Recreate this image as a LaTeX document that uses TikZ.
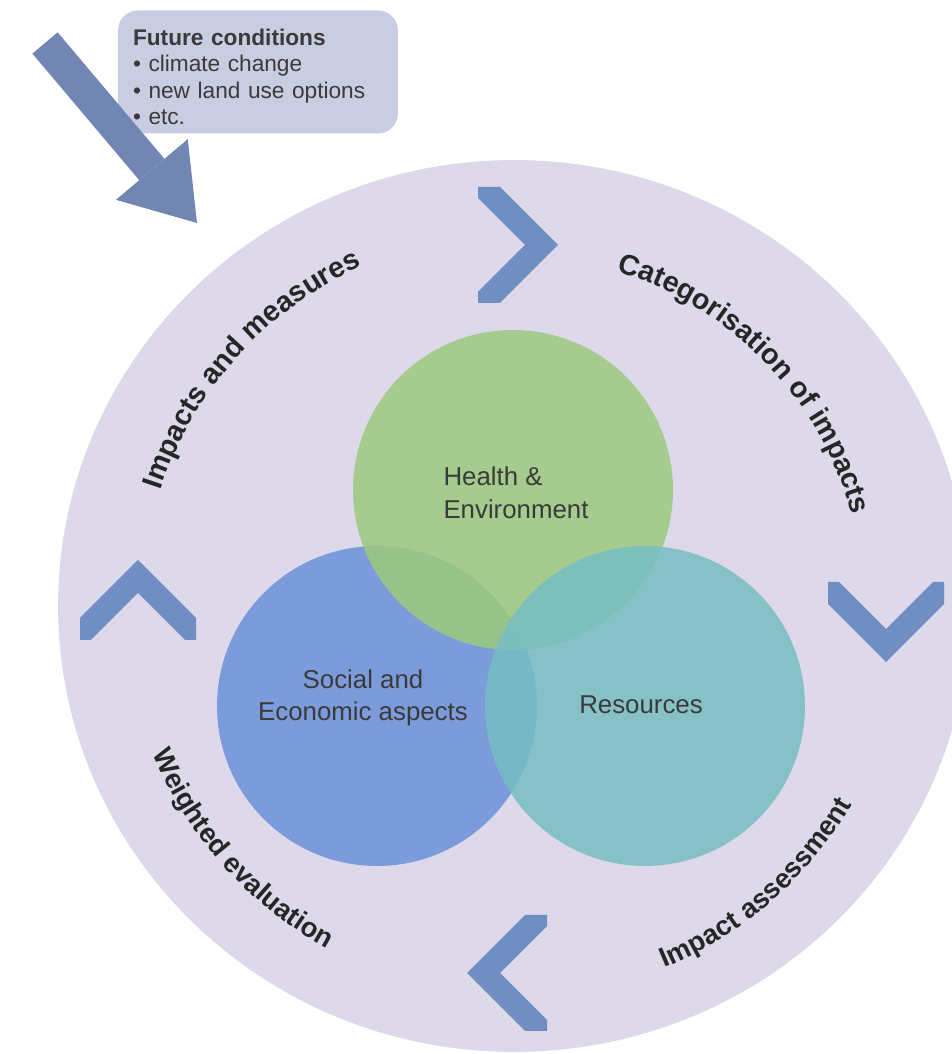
\documentclass[tikz,border=0pt]{standalone}
\usepackage{fontspec}
\setmainfont{Liberation Sans}
\usetikzlibrary{arrows.meta, positioning, shapes.geometric, decorations.text}
\definecolor{ringbg}{HTML}{DDD8EA}
\definecolor{chevblue}{HTML}{708EC1}
\definecolor{arrowblue}{HTML}{7286B4}
\definecolor{condbg}{HTML}{C8CDE2}
\definecolor{vblue}{HTML}{7B9BDB}
\definecolor{vgreen}{HTML}{9CCB7E}
\definecolor{vteal}{HTML}{77BEC3}
\definecolor{darktext}{HTML}{3A3A3A}
\definecolor{ringtext}{HTML}{262626}
\newcommand{\ringfont}{\fontsize{16.4}{19}\selectfont\bfseries}
\newcommand{\lowringfont}{\fontsize{15.6}{18}\selectfont\bfseries}

\begin{document}
\begin{tikzpicture}[
  x=0.02cm, y=0.02cm,
  condbox/.style={fill=condbg, rounded corners=0.4cm, text width=5cm,
                  inner xsep=0.3cm, inner ysep=0.1cm, minimum height=2.46cm,
                  align=left, font=\fontsize{12.9}{15.1}\selectfont, text=darktext},
  venn/.style={circle, inner sep=0pt, minimum size=6.4cm, fill opacity=0.85},
  venntext/.style={font=\fontsize{14.7}{18.5}\selectfont, text=darktext},
  bigarrow/.style={draw=arrowblue, line width=0.66cm,
                   -{Triangle[length=1.4cm, width=1.88cm, line width=0pt]}},
  chev/.pic={\fill[chevblue] (0,0) -- (-58,58) -- (-80,58) -- (-80,47) -- (-33,0)
             -- (-80,-47) -- (-80,-58) -- (-58,-58) -- cycle;}
]
  \useasboundingbox (0,0) rectangle (952,1054);
  \clip (0,0) rectangle (952,1054);
  \fill[white] (0,0) rectangle (952,1054);

  \node[ellipse, fill=ringbg, inner sep=0pt, minimum width=18.24cm,
        minimum height=17.84cm] (ring) at (514,448) {};

  \node[condbox] (future) at (258,982)
    {\rule{0pt}{15pt}\textbf{Future conditions}\\\textbullet\ climate change\\
     \textbullet\ new land use options\\\textbullet\ etc.};

  \coordinate (trendtail) at (45,1011);
  \coordinate (trendhead) at (197,831);
  \draw[bigarrow] (trendtail) -- (trendhead);

  \node[venn, fill=vblue, fill opacity=1] (social) at (377,348) {};
  \node[venn, fill=vgreen] (health) at (513,564) {};
  \node[venn, fill=vteal] (resources) at (645,348) {};

  \node[venntext, align=left] (healthlbl) at (516,561) {Health \&\\Environment};
  \node[venntext, align=center] (sociallbl) at (363,356) {Social and\\Economic aspects};
  \node[venntext] (resourceslbl) at (641,349) {Resources};

  \pic at (558,809) {chev};
  \pic[rotate=-90] at (886,392) {chev};
  \pic[rotate=180] at (467,81) {chev};
  \pic[rotate=90] at (138,494) {chev};

  \path[decorate, decoration={text along path, text align=center,
        text={|\ringfont\color{ringtext}|Impacts and measures}}]
    (ring.center) ++(178:372) arc[start angle=178, end angle=98, radius=372];
  \path[decorate, decoration={text along path, text align=center,
        text={|\ringfont\color{ringtext}|Categorisation of impacts}}]
    (ring.center) ++(84:350) arc[start angle=84, end angle=4, radius=350];
  \path[decorate, decoration={text along path, text align=center,
        text={|\lowringfont\color{ringtext}|Weighted evaluation}}]
    (ring.center) ++(181.8:390) arc[start angle=181.8, end angle=261.8, radius=390];
  \path[decorate, decoration={text along path, text align=center,
        text={|\lowringfont\color{ringtext}|Impact assessment}}]
    (ring.center) ++(271.1:392) arc[start angle=271.1, end angle=351.1, radius=392];
\end{tikzpicture}
\end{document}
